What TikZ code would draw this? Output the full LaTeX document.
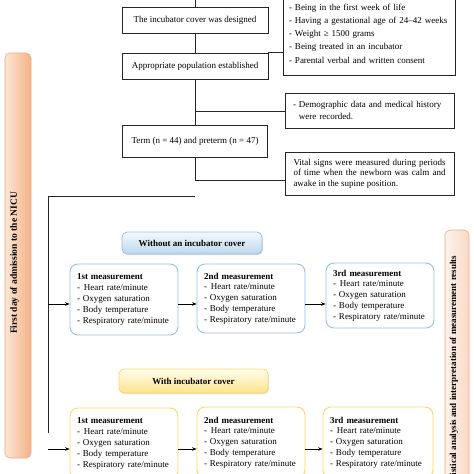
\documentclass[tikz,border=0pt]{standalone}
\usepackage{fontspec}
\setmainfont{Liberation Serif}
\usetikzlibrary{shadows,arrows.meta}
\definecolor{blueB}{RGB}{150,190,228}
\definecolor{yelB}{RGB}{255,214,100}
\definecolor{tOneTop}{RGB}{244,249,253}
\definecolor{tOneBot}{RGB}{190,215,239}
\definecolor{tTwoTop}{RGB}{255,253,238}
\definecolor{tTwoBot}{RGB}{255,228,140}
\definecolor{barL}{RGB}{252,230,214}
\definecolor{barR}{RGB}{244,178,134}
\definecolor{barB}{RGB}{236,170,125}
\definecolor{rbarL}{RGB}{253,242,235}
\definecolor{rbarR}{RGB}{249,218,198}
\tikzset{
  txt/.style={font=\fontsize{9}{11}\selectfont},
  plainbox/.style={txt, draw=black!85, line width=0.7pt, inner sep=0pt},
  meas/.style={txt, font=\fontsize{9}{10.8}\selectfont, draw, fill=white, rounded corners=8pt, line width=0.9pt,
     minimum width=108pt, text width=94pt, inner xsep=7pt, align=left},
  bluebox/.style={meas, draw=blueB},
  yelbox/.style={meas, draw=yelB},
  titlebox/.style={txt, font=\fontsize{9}{11}\selectfont\bfseries, rounded corners=5pt, line width=0.8pt,
     drop shadow={opacity=0.25, shadow xshift=1pt, shadow yshift=-1.2pt}},
  arr/.style={-{Stealth[length=4.5pt,width=3.5pt]}, line width=0.6pt, black},
  conn/.style={line width=0.6pt, black!85},
}
\newcommand{\meastext}[1]{\textbf{#1}\\-\hspace{4pt}Heart rate/minute\\- Oxygen saturation\\- Body temperature\\- Respiratory rate/minute}
\begin{document}
\begin{tikzpicture}[x=1pt,y=-1pt]
\useasboundingbox (0,0) rectangle (474,474);
\clip (0,0) rectangle (474,474);

% left bar
\node[draw=barB, line width=0.6pt, rounded corners=5pt, left color=barL, right color=barR,
      minimum width=26pt, minimum height=405pt, inner sep=0pt] (lbar) at (18,255.5) {};
\node[rotate=90, font=\fontsize{9.5}{11}\selectfont\bfseries] (ltext) at (14.5,263) {First day of admission to the NICU};

% right bar
\node[draw=barB, line width=0.6pt, rounded corners=5pt, left color=rbarL, right color=rbarR,
      minimum width=24pt, minimum height=270pt, inner sep=0pt] (rbar) at (457,365) {};
\node[rotate=90, anchor=east, font=\fontsize{9}{11}\selectfont\bfseries] (rtext) at (454,252)
  {Statistical analysis and interpretation of measurement results};

% top flow
\node[plainbox, minimum width=146pt, minimum height=26pt] (design) at (195,20) {The incubator cover was designed};
\node[plainbox, minimum width=146pt, minimum height=26pt] (pop) at (195,66) {Appropriate population established};
\node[plainbox, minimum width=145pt, minimum height=32pt] (term) at (195,141) {Term (n = 44) and preterm (n = 47)};

\node[plainbox, font=\fontsize{9}{13.3}\selectfont, minimum width=172pt, minimum height=83pt, text width=160pt, inner xsep=6pt, align=left] (crit) at (369,33.5)
  {- Being in the first week of life\\- Having a gestational age of 24--42 weeks\\- Weight ≥ 1500 grams\\- Being treated in an incubator\\- Parental verbal and written consent};
\node[plainbox, font=\fontsize{9}{11.5}\selectfont, minimum width=169pt, minimum height=35pt, text width=153pt, inner xsep=8pt, align=left] (demo) at (369.5,110.5)
  {- Demographic data and medical history\\\phantom{- }were recorded.};
\node[plainbox, font=\fontsize{9}{10.5}\selectfont, minimum width=169pt, minimum height=43pt, text width=152pt, align=justify] (vital) at (369.5,173.5)
  {Vital signs were measured during periods of time when the newborn was calm and awake in the supine position.};

\coordinate (top) at (195,-3);
\coordinate (j1) at (195,111);
\coordinate (j2) at (195,180);
\coordinate (c1) at (195,196);
\coordinate (c2) at (48,196);
\coordinate (c3) at (48,433);
\coordinate (a1) at (48,304);
\coordinate (a2) at (48,449);

\draw[conn] (top) -- (design.north);
\draw[conn] (design.south) -- (pop.north);
\draw[conn] (pop.south) -- (term.north);
\draw[conn] (pop.north east) -- (pop.north east -| crit.west);
\draw[conn] (j1) -- (j1 -| demo.west);
\draw[conn] (term.south) -- (j2);
\draw[conn] (j2) -- (j2 -| vital.west);
\draw[conn] (c1) -- (c2) -- (c3);

% without cover
\node[titlebox, draw=blueB, top color=tOneTop, bottom color=tOneBot, minimum width=140pt, minimum height=22pt] (t1) at (192,243) {Without an incubator cover};
\node[bluebox, minimum height=71pt] (m1) at (124,299.5) {\meastext{1st measurement}};
\node[bluebox, minimum height=69pt] (m2) at (251,298.5) {\meastext{2nd measurement}};
\node[bluebox, minimum height=65pt] (m3) at (380,295.5) {\meastext{3rd measurement}};
\draw[arr] (a1) -- (a1 -| m1.west);
\draw[arr] (a1 -| m1.east) -- (a1 -| m2.west);
\draw[arr] (a1 -| m2.east) -- (a1 -| m3.west);

% with cover
\node[titlebox, draw=yelB, top color=tTwoTop, bottom color=tTwoBot, minimum width=149pt, minimum height=24pt] (t2) at (193.5,381) {With incubator cover};
\node[yelbox, minimum height=71pt] (b1) at (124,443.5) {\meastext{1st measurement}};
\node[yelbox, minimum height=71pt] (b2) at (251,442.5) {\meastext{2nd measurement}};
\node[yelbox, minimum height=71pt, minimum width=110pt, text width=96pt] (b3) at (378,442.5) {\meastext{3rd measurement}};
\draw[arr] (a2) -- (a2 -| b1.west);
\draw[arr] (a2 -| b1.east) -- (a2 -| b2.west);
\draw[arr] (a2 -| b2.east) -- (a2 -| b3.west);
\end{tikzpicture}
\end{document}
